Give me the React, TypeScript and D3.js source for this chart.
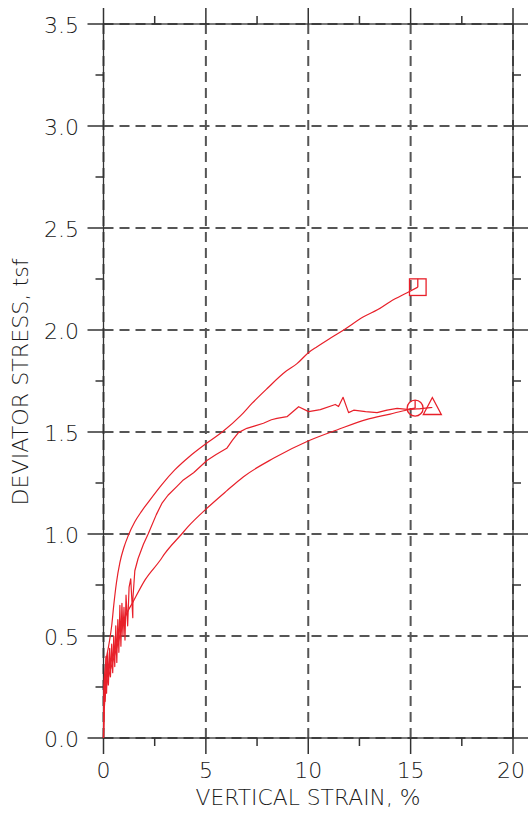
import React from "react";
import * as d3 from "d3";

const W = 528;
const H = 817;

// Series: [strain %, deviator stress tsf]
const squareSeries: [number, number][] = [
  [0, 0], [0.02, 0.25], [0.1, 0.36], [0.25, 0.45], [0.4, 0.55], [0.5, 0.65], [0.63, 0.76],
  [0.8, 0.86], [1.0, 0.935], [1.2, 0.99], [1.53, 1.06], [1.85, 1.11], [2.18, 1.155], [2.83, 1.24], [3.48, 1.314],
  [4.2, 1.38], [5.05, 1.446], [5.8, 1.5], [6.7, 1.58], [7.25, 1.64], [7.98, 1.712],
  [8.88, 1.795], [9.45, 1.835], [10.02, 1.89], [10.43, 1.918], [11.0, 1.955],
  [11.73, 2.0], [12.7, 2.065], [13.4, 2.1], [14.0, 2.139], [14.83, 2.183], [15.35, 2.21],
];

const circleSeries: [number, number][] = [
  [0, 0], [0.02, 0.14], [0.05, 0.3], [0.08, 0.18], [0.12, 0.4], [0.15, 0.22], [0.2, 0.42],
  [0.24, 0.26], [0.3, 0.44], [0.34, 0.3], [0.4, 0.46], [0.45, 0.32], [0.5, 0.5],
  [0.55, 0.35], [0.6, 0.55], [0.65, 0.37], [0.7, 0.58], [0.75, 0.42], [0.8, 0.65],
  [0.85, 0.45], [0.9, 0.66], [0.95, 0.5], [1.0, 0.64], [1.05, 0.48], [1.1, 0.7],
  [1.18, 0.55], [1.25, 0.74], [1.33, 0.78], [1.43, 0.59], [1.44, 0.69], [1.53, 0.82], [1.69, 0.88],
  [1.95, 0.95], [2.18, 1.0], [2.58, 1.095], [2.85, 1.15], [3.15, 1.19], [3.6, 1.235], [3.9, 1.265], [4.4, 1.3],
  [5.05, 1.36], [5.5, 1.39], [6.02, 1.42], [6.3, 1.46], [6.59, 1.497], [7.0, 1.518], [7.4, 1.53], [7.81, 1.543],
  [8.2, 1.56], [8.47, 1.567], [8.96, 1.575], [9.53, 1.624], [10.02, 1.6], [10.59, 1.61],
  [11.32, 1.635], [11.48, 1.625], [11.7, 1.67], [11.97, 1.595], [12.22, 1.607],
  [12.8, 1.6], [13.36, 1.595], [13.85, 1.607], [14.34, 1.616], [14.83, 1.611], [15.22, 1.617],
];

const triangleSeries: [number, number][] = [
  [0, 0], [0.03, 0.12], [0.1, 0.22], [0.25, 0.3], [0.5, 0.39], [0.8, 0.5], [1.05, 0.59],
  [1.46, 0.67], [2.03, 0.775], [2.76, 0.87], [3.0, 0.905], [3.82, 1.0], [4.13, 1.036],
  [5.05, 1.126], [6.0, 1.21], [6.84, 1.281], [8.3, 1.371], [10.02, 1.457], [11.4, 1.51],
  [12.87, 1.562], [14.0, 1.588], [14.83, 1.608], [15.5, 1.615], [16.06, 1.62],
];

const xTicks = [0, 5, 10, 15, 20];
const yTicks = [0, 0.5, 1.0, 1.5, 2.0, 2.5, 3.0, 3.5];
const xMinor = [2.5, 7.5, 12.5, 17.5];
const yMinor = [0.25, 0.75, 1.25, 1.75, 2.25, 2.75, 3.25];

const xTitle = "VERTICAL STRAIN, %";
const yTitle = "DEVIATOR STRESS, tsf";

const RED = "#e8202a";
const AX = "#333";
const TXT = "#1a1a1a";
const GRID = "#555";
const FONT = "'DejaVu Sans ExtraLight', 'DejaVu Sans', sans-serif";

export default function App() {
  const x = d3.scaleLinear().domain([0, 20]).range([103.5, 513]);
  const y = d3.scaleLinear().domain([0, 3.5]).range([738, 24]);
  const smooth = d3
    .line<[number, number]>()
    .x((d) => x(d[0]))
    .y((d) => y(d[1]))
    .curve(d3.curveMonotoneX);
  const linear = d3
    .line<[number, number]>()
    .x((d) => x(d[0]))
    .y((d) => y(d[1]));

  const [x0, x1] = x.range();
  const [y0, y1] = y.range();

  const last = (s: [number, number][]) => s[s.length - 1];
  const sq = last(squareSeries);
  const ci = last(circleSeries);
  const tr = last(triangleSeries);

  const dash = "10,6";
  const fs = 22;

  return (
    <svg
      width={W}
      height={H}
      style={{ position: "absolute", left: 0, top: 0, background: "#fff" }}
    >
      {/* grid */}
      {xTicks.map((t) => (
        <line key={"gx" + t} x1={x(t)} x2={x(t)} y1={y0} y2={y1} stroke={GRID} strokeWidth={2} strokeDasharray={dash} />
      ))}
      {yTicks.map((t) => (
        <line key={"gy" + t} x1={x0} x2={x1} y1={y(t)} y2={y(t)} stroke={GRID} strokeWidth={2} strokeDasharray={dash} />
      ))}
      {/* frame */}
      <rect x={x0} y={y1} width={x1 - x0} height={y0 - y1} fill="none" stroke={AX} strokeWidth={1.3} />
      {/* major ticks */}
      {xTicks.map((t) => (
        <g key={"tx" + t}>
          <line x1={x(t)} x2={x(t)} y1={y0} y2={y0 + 16} stroke={AX} strokeWidth={1.5} />
          <line x1={x(t)} x2={x(t)} y1={y1} y2={y1 - 16} stroke={AX} strokeWidth={1.5} />
        </g>
      ))}
      {yTicks.map((t) => (
        <g key={"ty" + t}>
          <line x1={x0 - 16} x2={x0} y1={y(t)} y2={y(t)} stroke={AX} strokeWidth={1.5} />
          <line x1={x1} x2={x1 + 16} y1={y(t)} y2={y(t)} stroke={AX} strokeWidth={1.5} />
        </g>
      ))}
      {/* minor ticks */}
      {xMinor.map((t) => (
        <g key={"mx" + t}>
          <line x1={x(t)} x2={x(t)} y1={y0} y2={y0 + 8} stroke={AX} strokeWidth={1.5} />
          <line x1={x(t)} x2={x(t)} y1={y1} y2={y1 - 8} stroke={AX} strokeWidth={1.5} />
        </g>
      ))}
      {yMinor.map((t) => (
        <g key={"my" + t}>
          <line x1={x0 - 8} x2={x0} y1={y(t)} y2={y(t)} stroke={AX} strokeWidth={1.5} />
          <line x1={x1} x2={x1 + 8} y1={y(t)} y2={y(t)} stroke={AX} strokeWidth={1.5} />
        </g>
      ))}
      {/* tick labels */}
      {xTicks.map((t) => (
        <text key={"lx" + t} x={x(t) - (t === 20 ? 2 : 0)} y={778} textAnchor="middle" fontFamily={FONT} fontWeight={200} fontSize={fs} fill={TXT}>
          {String(t)}
        </text>
      ))}
      {yTicks.map((t) => (
        <text key={"ly" + t} x={79} y={y(t) + 8.5} textAnchor="end" fontFamily={FONT} fontWeight={200} fontSize={fs} fill={TXT}>
          {t.toFixed(1)}
        </text>
      ))}
      {/* titles */}
      <text x={308} y={805} textAnchor="middle" fontFamily={FONT} fontWeight={200} fontSize={fs} fill={TXT} textLength={225} lengthAdjust="spacingAndGlyphs">
        {xTitle}
      </text>
      <text
        transform={`translate(28,382) rotate(-90)`}
        textAnchor="middle"
        fontFamily={FONT}
        fontWeight={200}
        fontSize={fs}
        fill={TXT}
        textLength={247}
        lengthAdjust="spacingAndGlyphs"
      >
        {yTitle}
      </text>
      {/* curves */}
      <path d={smooth(squareSeries) || ""} fill="none" stroke={RED} strokeWidth={1.2} strokeLinejoin="round" />
      <path d={linear(circleSeries) || ""} fill="none" stroke={RED} strokeWidth={1.2} strokeLinejoin="round" />
      <path d={smooth(triangleSeries) || ""} fill="none" stroke={RED} strokeWidth={1.2} strokeLinejoin="round" />
      {/* markers */}
      <g fill="none" stroke={RED} strokeWidth={1.3}>
        <rect x={x(sq[0]) - 8.3} y={y(sq[1]) - 8.3} width={16.6} height={16.6} />
        <line x1={x(sq[0])} x2={x(sq[0])} y1={y(sq[1]) - 8.3} y2={y(sq[1])} />
        <circle cx={x(ci[0])} cy={y(ci[1])} r={8} />
        <line x1={x(ci[0])} x2={x(ci[0])} y1={y(ci[1]) - 8} y2={y(ci[1])} />
        <path
          d={`M${x(tr[0])},${y(tr[1]) - 10} L${x(tr[0]) + 9},${y(tr[1]) + 7} L${x(tr[0]) - 9},${y(tr[1]) + 7} Z`}
        />
      </g>
    </svg>
  );
}
